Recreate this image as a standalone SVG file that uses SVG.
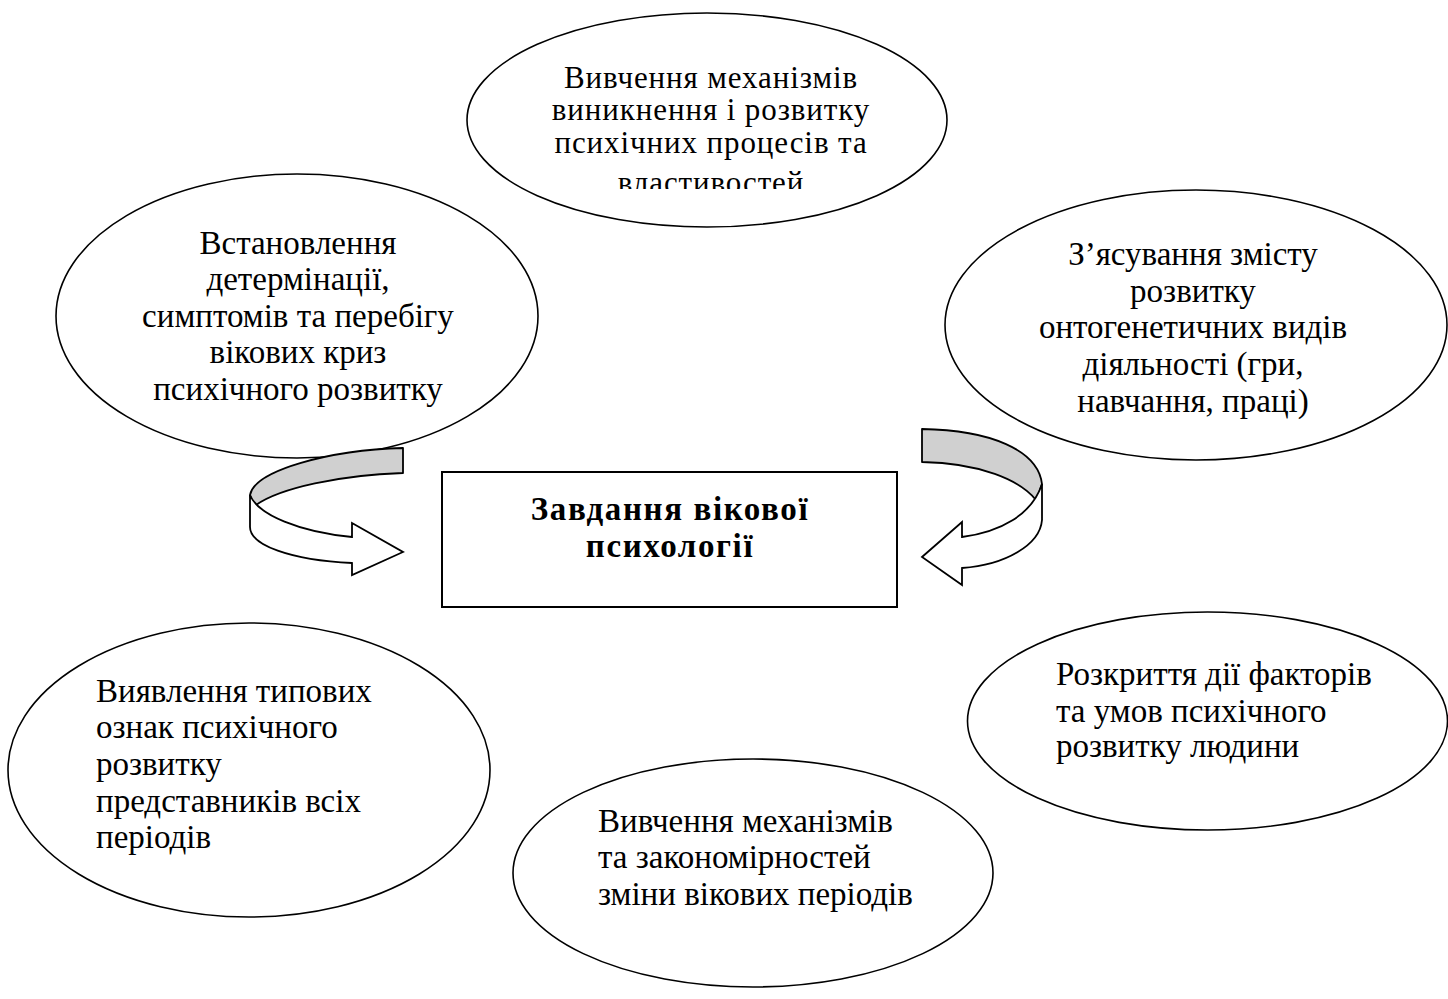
<svg xmlns="http://www.w3.org/2000/svg" width="1448" height="999" viewBox="0 0 1448 999">
<style>
.node ellipse{fill:#fff;stroke:#000;stroke-width:1.6}
.box{fill:#fff;stroke:#000;stroke-width:2}
.t{font-family:"Liberation Serif","Times New Roman",serif;font-size:33px;fill:#000}
.c{text-anchor:middle}
.s{font-size:31px;letter-spacing:0.9px}
.b{font-weight:bold;font-size:33px;letter-spacing:1.6px}
.gray{fill:#d0d0d0;stroke:#000;stroke-width:1.8;stroke-linejoin:round}
.white{fill:#fff;stroke:#000;stroke-width:1.8;stroke-linejoin:miter}
</style>
<defs>
<clipPath id="clipTop"><rect x="460" y="0" width="500" height="189"/></clipPath>
</defs>
<rect width="1448" height="999" fill="#fff"/>

<g id="node-top" class="node">
<ellipse cx="707" cy="120" rx="240" ry="107"/>
<g clip-path="url(#clipTop)">
<text class="t c s" x="711" y="88">Вивчення механізмів</text>
<text class="t c s" x="711" y="120">виникнення і розвитку</text>
<text class="t c s" x="711" y="153">психічних процесів та</text>
<text class="t c s" x="711" y="193">властивостей</text>
</g>
</g>

<g id="node-left" class="node">
<ellipse cx="297" cy="316" rx="241" ry="142"/>
<text class="t c" x="298" y="254">Встановлення</text>
<text class="t c" x="298" y="290">детермінації,</text>
<text class="t c" x="298" y="327">симптомів та перебігу</text>
<text class="t c" x="298" y="363">вікових криз</text>
<text class="t c" x="298" y="400">психічного розвитку</text>
</g>

<g id="node-right" class="node">
<ellipse cx="1196" cy="325" rx="251" ry="135"/>
<text class="t c" x="1193" y="265">З’ясування змісту</text>
<text class="t c" x="1193" y="302">розвитку</text>
<text class="t c" x="1193" y="338">онтогенетичних видів</text>
<text class="t c" x="1193" y="375">діяльності (гри,</text>
<text class="t c" x="1193" y="412">навчання, праці)</text>
</g>

<g id="node-center">
<rect class="box" x="442" y="472" width="455" height="135"/>
<text class="t c b" x="670" y="520">Завдання вікової</text>
<text class="t c b" x="670" y="557">психології</text>
</g>

<g id="node-bottom-left" class="node">
<ellipse cx="249" cy="770" rx="241" ry="147"/>
<text class="t" x="96" y="702">Виявлення типових</text>
<text class="t" x="96" y="738">ознак психічного</text>
<text class="t" x="96" y="775">розвитку</text>
<text class="t" x="96" y="812">представників всіх</text>
<text class="t" x="96" y="848">періодів</text>
</g>

<g id="node-bottom-right" class="node">
<ellipse cx="1207.5" cy="721" rx="240" ry="109"/>
<text class="t" x="1056" y="685">Розкриття дії факторів</text>
<text class="t" x="1056" y="722">та умов психічного</text>
<text class="t" x="1056" y="757">розвитку людини</text>
</g>

<g id="node-bottom" class="node">
<ellipse cx="753" cy="873" rx="240" ry="114"/>
<text class="t" x="598" y="832">Вивчення механізмів</text>
<text class="t" x="598" y="868">та закономірностей</text>
<text class="t" x="598" y="905">зміни вікових періодів</text>
</g>

<g id="connectors">
<g id="arrow-left">
<path class="gray" d="M403,448 C330,450 255,470 250,495 C251,500 253,503 256,505 C280,488 340,475 403,473 Z"/>
<path class="white" d="M250,495 L250,527 C250,545 290,560 352,563 L352,575 L403,552 L352,523 L352,537 C300,532 258,515 250,495 Z"/>
</g>
<g id="arrow-right">
<path class="gray" d="M922,429 C990,430 1038,450 1042,484 C1040,490 1038,496 1036,500 C1020,480 980,463 922,462 Z"/>
<path class="white" d="M1042,484 L1042,520 C1040,545 1005,565 962,568 L962,585 L922,557 L962,522 L962,537 C1000,532 1032,515 1042,484 Z"/>
</g>
</g>
</svg>
